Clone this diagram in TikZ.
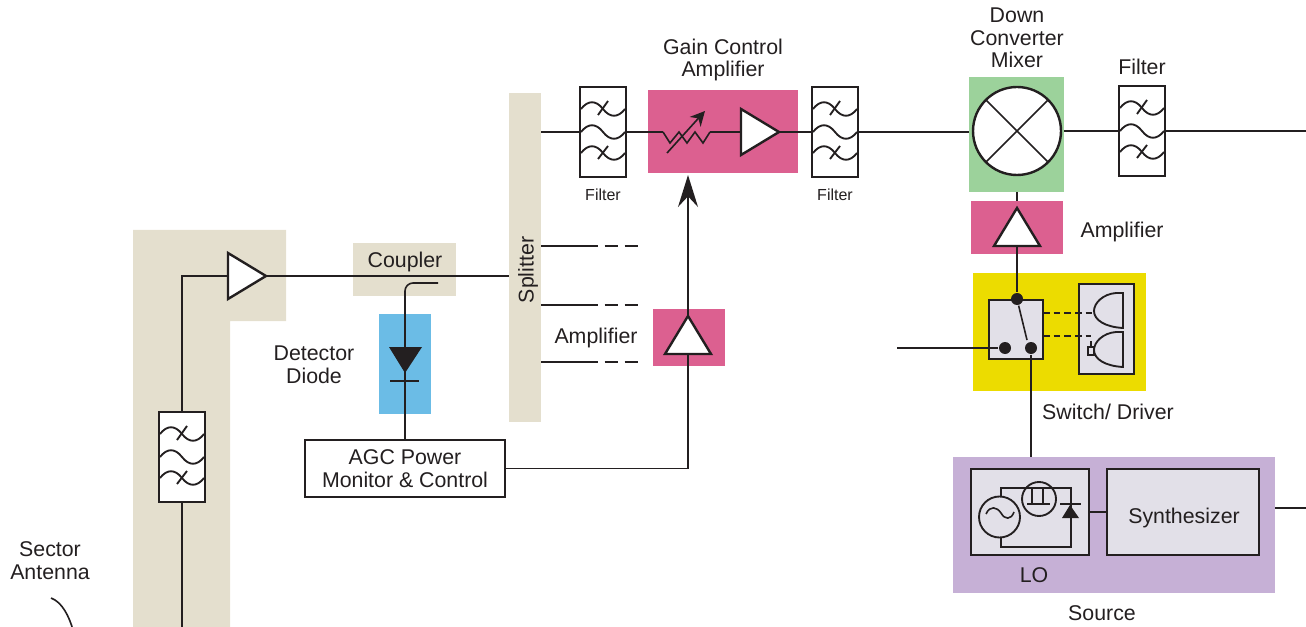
\documentclass[tikz,border=0pt]{standalone}
\usepackage{fontspec}
\setmainfont{Liberation Sans}
\usepackage{tikz}
\usetikzlibrary{arrows.meta,shapes.geometric}
\definecolor{ink}{HTML}{231F20}
\definecolor{tan}{HTML}{E4DFCE}
\definecolor{rose}{HTML}{DC6090}
\definecolor{leaf}{HTML}{9CD29B}
\definecolor{lemon}{HTML}{ECDC00}
\definecolor{sky}{HTML}{6BBCE6}
\definecolor{lilac}{HTML}{C6B0D6}
\definecolor{panel}{HTML}{E2E0E8}
\newcommand{\px}{0.75pt}

\tikzset{
  panelbox/.style={rectangle, inner sep=0, outer sep=0, draw=none},
  block/.style={rectangle, inner sep=0, outer sep=0, draw=ink, line width=1.7pt, align=center},
  filterbox/.style={block, fill=white, minimum width=46*\px, minimum height=90*\px},
  ampright/.style={isosceles triangle, isosceles triangle stretches, inner sep=0, outer sep=0, draw=ink,
    line width=1.8pt, fill=white, anchor=apex, minimum width=46*\px, minimum height=38*\px},
  ampup/.style={ampright, shape border rotate=90, minimum width=46*\px, minimum height=38*\px},
  label/.style={text=ink, align=center, inner sep=0, font=\fontsize{16}{17}\selectfont},
  smalllabel/.style={text=ink, inner sep=0, font=\fontsize{12}{14}\selectfont},
  dot/.style={circle, fill=ink, inner sep=0, minimum size=12*\px},
  filterwaves/.pic={
    \foreach \ypos in {-23,0,21}
      \draw[line width=1.4pt] (-22,\ypos) .. controls (-15,\ypos-9) and (-7,\ypos-9) .. (0,\ypos)
        .. controls (7,\ypos+9) and (15,\ypos+9) .. (22,\ypos);
    \draw[line width=1.4pt] (-5,-17) -- (5,-31);
    \draw[line width=1.4pt] (-5,27) -- (5,14);
  }
}

\begin{document}
\begin{tikzpicture}[x=\px, y=-\px, line width=1.2pt, draw=ink]
  \useasboundingbox (0,0) rectangle (1306,627);

  % coloured backgrounds
  \fill[tan] (133,230) -- (286,230) -- (286,321) -- (230,321) -- (230,627) -- (133,627) -- cycle;
  \node[panelbox, fill=tan, minimum width=103*\px, minimum height=53*\px] (coupler) at (404.5,269.5) {};
  \node[panelbox, fill=sky, minimum width=52*\px, minimum height=100*\px] (detector) at (405,364) {};
  \node[panelbox, fill=tan, minimum width=32*\px, minimum height=329*\px] (splitter) at (525,257.5) {};
  \node[panelbox, fill=rose, minimum width=150*\px, minimum height=83*\px] (gainbox) at (723,131.5) {};
  \node[panelbox, fill=rose, minimum width=72*\px, minimum height=57*\px] (ampbox) at (689,337.5) {};
  \node[panelbox, fill=leaf, minimum width=95*\px, minimum height=115*\px] (mixerbox) at (1016.5,134.5) {};
  \node[panelbox, fill=rose, minimum width=92*\px, minimum height=53*\px] (driverbox) at (1017,227.5) {};
  \node[panelbox, fill=lemon, minimum width=173*\px, minimum height=118*\px] (switchbox) at (1059.5,332) {};
  \node[panelbox, fill=lilac, minimum width=322*\px, minimum height=136*\px] (source) at (1114,525) {};

  % filters
  \foreach \name/\xpos/\ypos in {filterAnt/182/457, filterA/603/132, filterB/835/132, filterC/1142/131} {
    \node[filterbox] (\name) at (\xpos,\ypos) {};
    \pic at (\name) {filterwaves};
  }

  % amplifiers
  \node[ampright] (ampin) at (266,276) {};
  \node[ampright] (ampgain) at (779,132) {};
  \node[ampup] (ampagc) at (688,316) {};
  \node[ampup] (ampdriver) at (1017,208) {};

  % blocks
  \node[block, fill=white, label, minimum width=200*\px, minimum height=57*\px] (agc) at (405,468.5) {AGC Power\\Monitor \& Control};
  \node[circle, draw=ink, fill=white, line width=1.8pt, inner sep=0, outer sep=0, minimum size=88*\px] (mixer) at (1017,131) {};
  \draw (mixer.45) -- (mixer.225) (mixer.135) -- (mixer.315);
  \node[block, fill=panel, minimum width=54*\px, minimum height=59*\px] (switch) at (1016,329.5) {};
  \node[block, fill=panel, minimum width=55*\px, minimum height=90*\px] (logic) at (1106.5,329) {};
  \node[block, fill=panel, minimum width=118*\px, minimum height=86*\px] (lo) at (1030,512) {};
  \node[block, fill=panel, minimum width=152*\px, minimum height=86*\px] (synth) at (1183,512) {};

  \coordinate (resL) at (663,132);
  \coordinate (resR) at (710,132);
  \coordinate (tapA) at (598,246);
  \coordinate (tapB) at (598,305);
  \coordinate (tapC) at (598,362);
  \coordinate (coupled) at (438,283);
  \coordinate (gainin) at (688,175);
  \coordinate (gateA) at (1094,313);
  \coordinate (gateB) at (1091,336);
  \coordinate (drive) at (897,348);
  \coordinate (rfout) at (1306,131);
  \coordinate (loout) at (1306,508);
  \coordinate (antenna) at (51,598);
  \coordinate (antennaend) at (73,630);
  \coordinate (feed) at (182,630);

  \node[dot] (swA) at (1017,299) {};
  \node[dot] (swB) at (1005,348) {};
  \node[dot] (swC) at (1031,348) {};

  % connections
  \foreach \from/\to in {feed/filterAnt.south, drive/swB, ampdriver.lower side/swA, resR/ampgain.lower side}
    \draw (\from) -- (\to);
  \draw (filterAnt.north) |- (ampin.lower side);
  \draw (ampin.apex) -- (ampin.apex -| splitter.west);
  \draw (splitter.east |- filterA) -- (filterA.west);
  \draw (filterA.east) -- (resL);
  \draw (ampgain.apex) -- (filterB.west);
  \draw (filterB.east) -- (mixerbox.west |- filterB);
  \draw (mixerbox.east |- filterC) -- (filterC.west);
  \draw (filterC.east) -- (rfout);
  \draw (mixerbox.south -| mixer) -- (driverbox.north -| mixer);
  \draw (swC) -- (swC |- source.north);
  \draw (source.east |- loout) -- (loout);
  \draw (lo.east) -- (synth.west);
  \draw[rounded corners=6pt] (coupled) -| (agc.north);
  \draw (agc.east) -| (ampagc.lower side);
  \draw[-{Stealth[length=24pt,width=15pt,inset=8pt]}] (ampagc.apex) -- (gainin);
  \draw (antenna) .. controls (62,602) and (69,616) .. (antennaend);
  \foreach \tap in {tapA, tapB, tapC} {
    \draw (splitter.east |- \tap) -- (\tap);
    \draw[dash pattern=on 10pt off 5pt] ([xshift=5pt]\tap) -- ++(35,0);
  }
  \draw[dash pattern=on 5pt off 3pt] (switch.east |- gateA) -- (gateA);
  \draw[dash pattern=on 5pt off 3pt] (switch.east |- gateB) -- (gateB);

  % variable resistor
  \draw (resL) -- (670,143) -- (679,132) -- (687,143) -- (695,132) -- (703,143) -- (resR);
  \draw[-{Stealth[length=11pt,width=11pt]}] (667,153) -- (705,111);

  % diode
  \fill[ink] (389,347) -- (422,347) -- (405,373) -- cycle;
  \draw (390,381) -- (419,381);

  % switch blade and logic gates
  \draw (swA) -- (1027,340);
  \foreach \dy in {0,39}
    \draw[line width=1.4pt] (1123,293+\dy) -- (1116,293+\dy) .. controls (1103,294+\dy) and (1094,303+\dy) .. (1094,311+\dy)
      .. controls (1094,320+\dy) and (1105,327+\dy) .. (1123,328+\dy) -- cycle;
  \draw (1088,347) rectangle (1094,355);
  \draw (1091,341) -- (1091,347);

  % oscillator
  \draw (1001,497) -- (1001,488) -- (1071,488) -- (1071,547) -- (1001,547) -- (1001,538);
  \draw[line width=1.4pt] (999.5,517) circle (20.5);
  \draw[line width=1.4pt] (1039,499) circle (17);
  \draw (986,514) .. controls (990,505) and (997,507) .. (1001,513) .. controls (1005,520) and (1011,520) .. (1014,512);
  \draw (1027,504) -- (1050,504) (1032,504) -- (1032,488) (1043,504) -- (1043,488);
  \draw (1060,504) -- (1081,504);
  \fill[ink] (1062,518) -- (1079,518) -- (1070,505) -- cycle;

  % labels
  \node[label] (lblsector) at (50,560.5) {Sector\\Antenna};
  \node[label] (lblcoupler) at (405,262) {Coupler};
  \node[label] (lbldetector) at (314,364.5) {Detector\\Diode};
  \node[label, rotate=90] (lblsplitter) at (528,270) {Splitter};
  \node[label] (lblamp) at (596,338) {Amplifier};
  \node[label] (lblgain) at (723,60) {Gain Control\\Amplifier};
  \node[smalllabel] (lblfilterA) at (603,195) {Filter};
  \node[smalllabel] (lblfilterB) at (835,195) {Filter};
  \node[label] (lblmixer) at (1017,38) {Down\\Converter\\Mixer};
  \node[label] (lblfilterC) at (1142,67) {Filter};
  \node[label] (lbldriver) at (1122,232) {Amplifier};
  \node[label] (lblswitch) at (1108,412) {Switch/ Driver};
  \node[label] (lblsynth) at (1184,518) {Synthesizer};
  \node[label] (lbllo) at (1034,575) {LO};
  \node[label] (lblsource) at (1102,613) {Source};
\end{tikzpicture}
\end{document}
